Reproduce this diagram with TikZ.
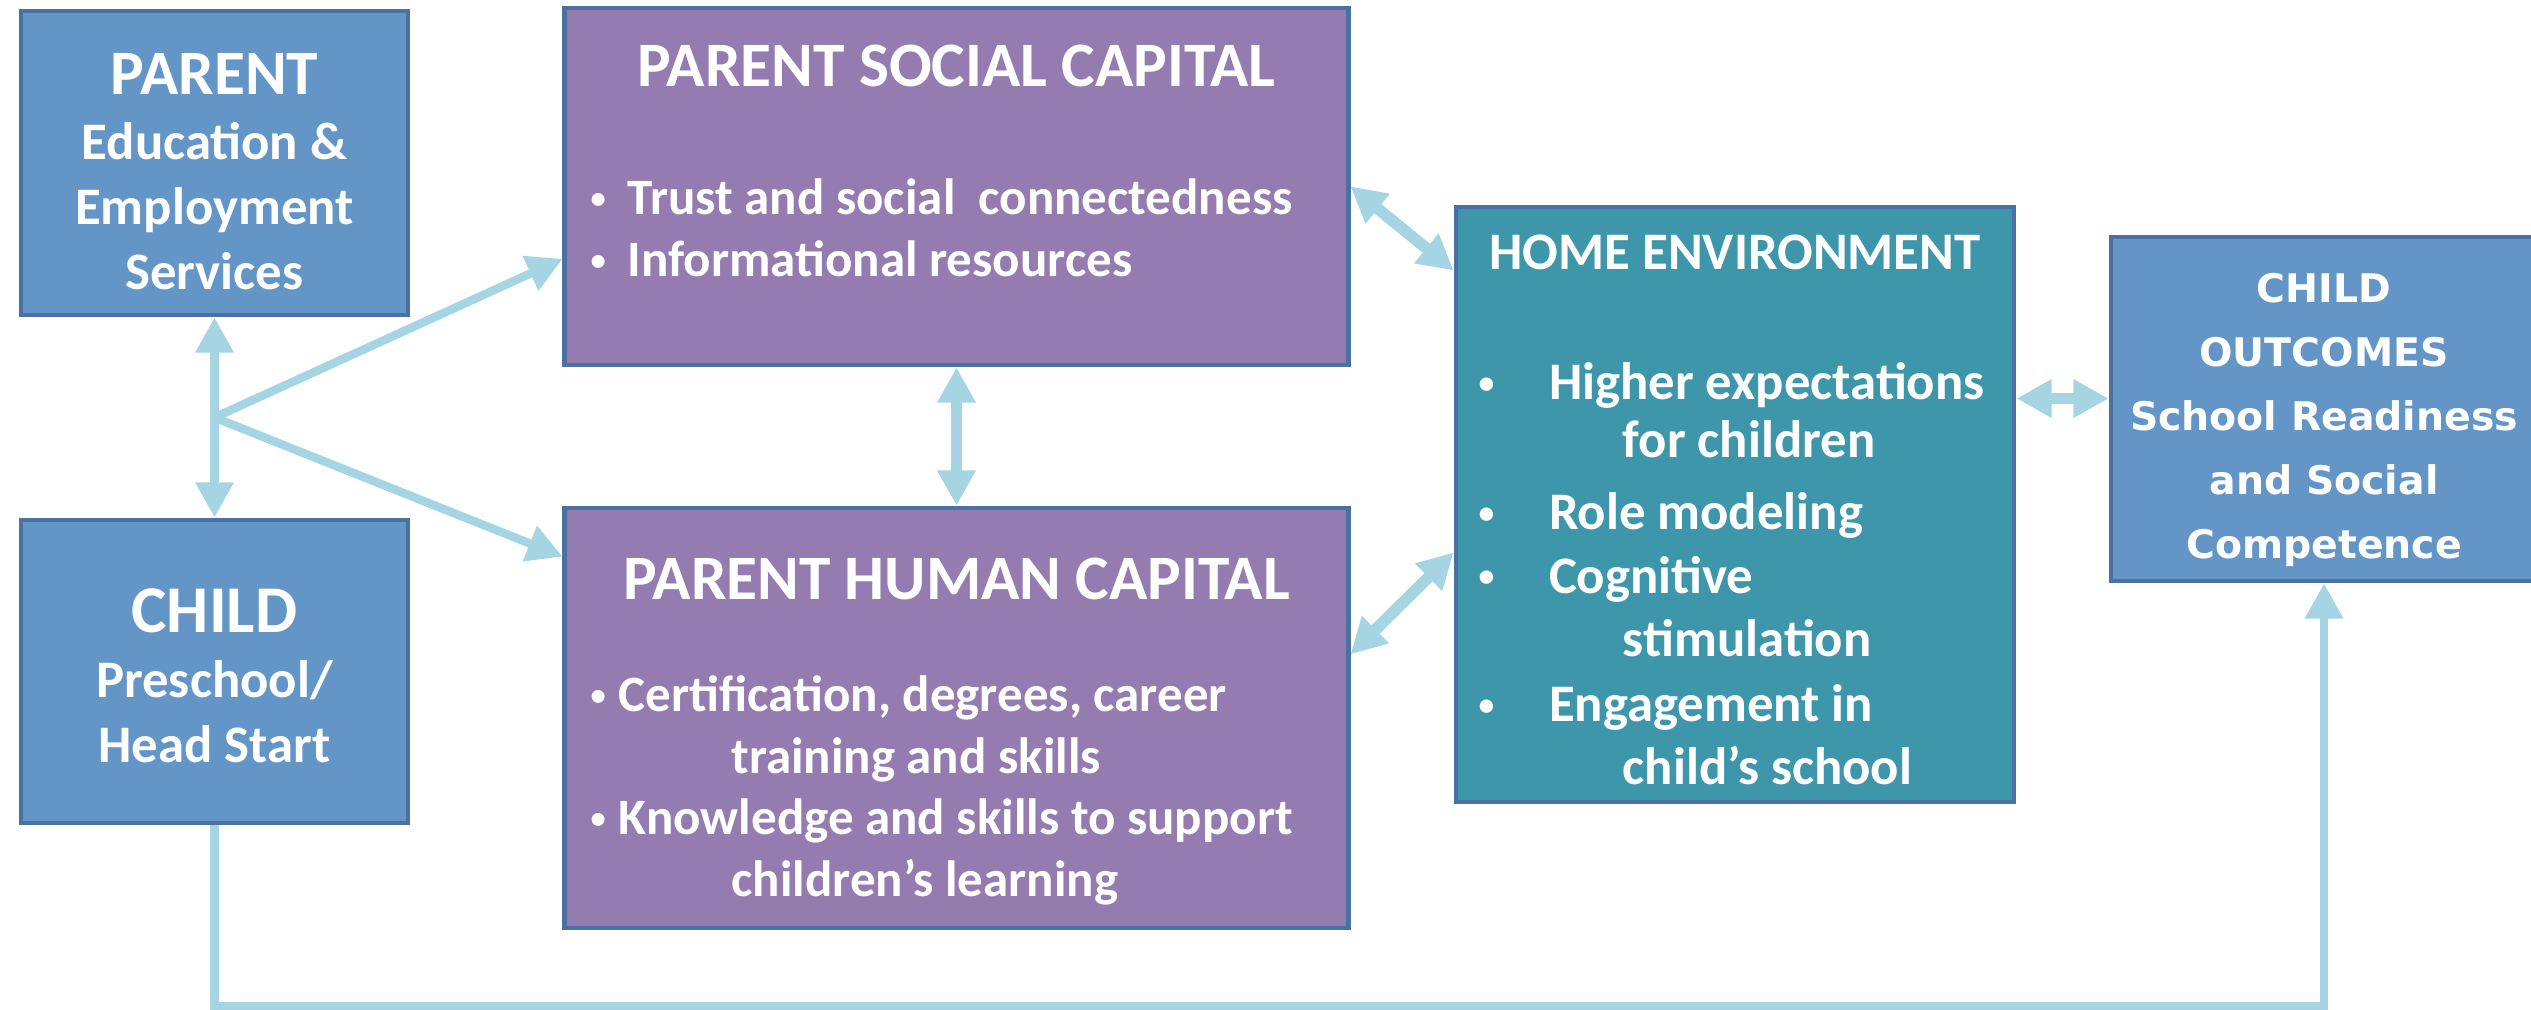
\documentclass[tikz,border=0pt]{standalone}
\usepackage{fontspec}
\usepackage{graphicx}
\setmainfont{Carlito}
\newfontfamily\outfont{DejaVu Sans}
\usetikzlibrary{arrows.meta, calc, positioning}

\definecolor{boxblue}{HTML}{6395C7}
\definecolor{boxpurple}{HTML}{947BB0}
\definecolor{boxteal}{HTML}{3E96AB}
\definecolor{boxline}{HTML}{4A71A0}
\definecolor{linkblue}{HTML}{A5D5E2}

\newcommand{\bul}[2]{\makebox[#1][l]{\raisebox{0.12em}{\scalebox{0.6}{\textbullet}}}#2}
\newcommand{\topgap}[1]{\rule{0pt}{#1}}

\begin{document}
\begin{tikzpicture}[x=0.01cm,y=-0.01cm,text=white,
  box/.style={draw=boxline,line width=1.3pt,rectangle,inner sep=0pt},
  bluebox/.style={box,fill=boxblue,align=center,font=\fontsize{15}{18.5}\selectfont\bfseries},
  purplebox/.style={box,fill=boxpurple},
  tealbox/.style={box,fill=boxteal},
  title/.style={anchor=base,inner sep=0pt,font=\fontsize{18}{21}\selectfont\bfseries},
  items/.style={anchor=north west,align=left,inner sep=0pt},
  link/.style={draw=linkblue,line width=2.4pt,-{Triangle[length=10pt,width=10.3pt]}},
  both/.style={link,line width=3.3pt,{Triangle[length=10pt,width=10.3pt]}-{Triangle[length=10pt,width=10.3pt]}}]
	\useasboundingbox (0,0) rectangle (2531,1010);
	% boxes
	\node[bluebox,minimum width=3.87cm,minimum height=3.04cm] (parent) at (214.5,163)
		{{\fontsize{18}{21}\selectfont\topgap{16.5pt}PARENT}\\Education \&\\Employment\\Services};
	\node[bluebox,minimum width=3.87cm,minimum height=3.03cm] (child) at (214.5,671.5)
		{{\fontsize{19}{21}\selectfont\topgap{15pt}CHILD}\\Preschool/\\Head Start};
	\node[purplebox,minimum width=7.83cm,minimum height=3.57cm] (psc) at (956.5,186.5) {};
	\node[purplebox,minimum width=7.83cm,minimum height=4.2cm] (phc) at (956.5,718) {};
	\node[tealbox,minimum width=5.58cm,minimum height=5.95cm] (home) at (1735,504.5) {};
	\node[bluebox,minimum width=4.26cm,minimum height=3.44cm,font=\outfont\fontsize{11.2}{18.2}\selectfont\bfseries] (outc) at (2324,409)
		{\topgap{14.6pt}CHILD\\OUTCOMES\\School Readiness\\and Social\\Competence};

	% box texts
	\node[title] (psctitle) at (956.5,87) {PARENT SOCIAL CAPITAL};
	\node[items,font=\fontsize{14.5}{17.4}\selectfont\bfseries] (psclist) at (590,178.5)
		{\bul{10.5pt}{Trust and social\ \ connectedness}\\
		 \bul{10.5pt}{Informational resources}};
	\node[title] (phctitle) at (956.5,600) {PARENT HUMAN CAPITAL};
	\node[items,font=\fontsize{14.5}{17.5}\selectfont\bfseries] (phclist) at (590,675)
		{\bul{8pt}{Certification, degrees, career}\\
		 \hspace*{40pt}training and skills\\
		 \bul{8pt}{Knowledge and skills to support}\\
		 \hspace*{40pt}children’s learning};
	\node[title,font=\fontsize{15}{18}\selectfont\bfseries] (hometitle) at (1735,270) {HOME ENVIRONMENT};
	\node[items,font=\fontsize{15}{18}\selectfont\bfseries] (homelist) at (1478,362)
		{\bul{20pt}{Higher expectations}\\[-1.5pt]
		 \hspace*{41pt}for children\\[2.5pt]
		 \bul{20pt}{Role modeling}\\
		 \bul{20pt}{Cognitive}\\
		 \hspace*{41pt}stimulation\\[0.5pt]
		 \bul{20pt}{Engagement in}\\
		 \hspace*{41pt}child’s school};

	% connectors
	\coordinate (fork) at ($(parent.south)!0.5!(child.north)$);
	\coordinate (outin) at ($(outc.north west)!0.47!(outc.south west)$);
	\draw[link] (fork) -- (parent.south);
	\draw[link] (fork) -- (child.north);
	\draw[link] (fork) -- ($(psc.south west)!0.3!(psc.north west)$);
	\draw[link] (fork) -- ($(phc.north west)!0.12!(phc.south west)$);
	\draw[both] (psc.south) -- (phc.north);
	\draw[both] (psc.east) -- ($(home.north west)!0.11!(home.south west)$);
	\draw[both] ($(phc.north east)!0.35!(phc.south east)$) -- ($(home.north west)!0.58!(home.south west)$);
	\draw[both] (home.east |- outin) -- (outin);
	\draw[link] (child.south) -- ++(0,181) -| (outc.south);
\end{tikzpicture}
\end{document}
